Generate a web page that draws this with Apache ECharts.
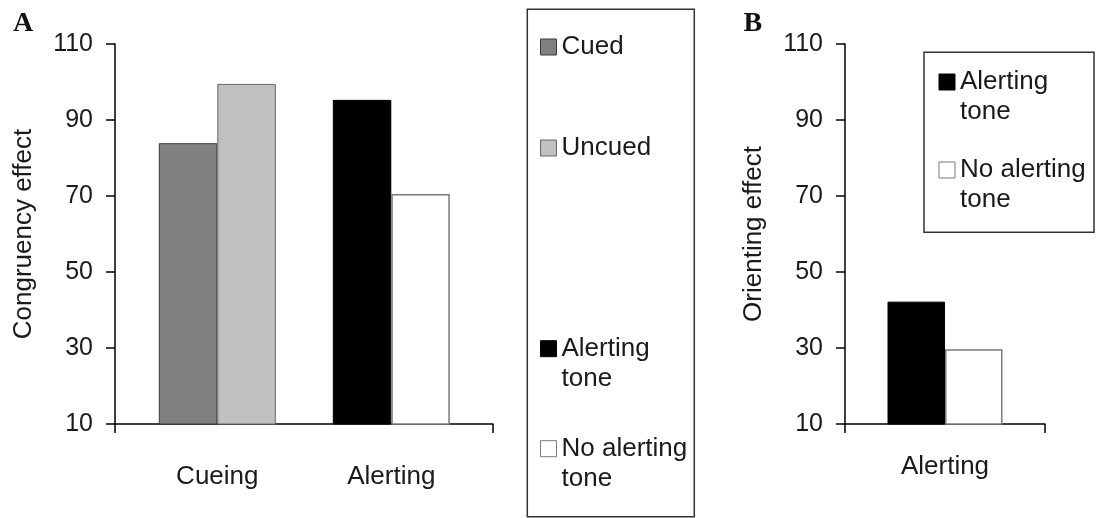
<!DOCTYPE html>
<html>
<head>
<meta charset="utf-8">
<script src="https://cdn.jsdelivr.net/npm/echarts@6/dist/echarts.min.js"></script>
<style>html,body{margin:0;padding:0;background:#fff}#c{width:1099px;height:518px}</style>
</head>
<body>
<div id="c"></div>
<script>
// ---- data ----
const panelACategories = ['Cueing', 'Alerting'];
const cued = [83.9, null];
const uncued = [99.5, null];
const alertingToneA = [null, 95.3];
const noAlertingToneA = [null, 70.5];
const panelBCategories = ['Alerting'];
const alertingToneB = [42.2];
const noAlertingToneB = [29.7];
const yTicks = [10, 30, 50, 70, 90, 110];
const legendLabels = { 'Cued': 'Cued', 'Uncued': 'Uncued', 'Alerting tone': 'Alerting\ntone', 'No alerting tone': 'No alerting\ntone' };

const FONT = 'Liberation Sans, Arial, Helvetica, sans-serif';
const TXT = '#1a1a1a';
const yMin = yTicks[0], yMax = yTicks[yTicks.length - 1], yStep = yTicks[1] - yTicks[0];

const styles = {
  'Cued': { color: '#808080', borderColor: '#3a3a3a', borderWidth: 1 },
  'Uncued': { color: '#c0c0c0', borderColor: '#666666', borderWidth: 1 },
  'Alerting tone': { color: '#000000', borderColor: '#000000', borderWidth: 1 },
  'No alerting tone': { color: '#ffffff', borderColor: '#7a7a7a', borderWidth: 1.5 }
};

function visibleY(name) {
  return {
    type: 'value', min: yMin, max: yMax, interval: yStep,
    name: name, nameLocation: 'middle', nameGap: 78,
    nameTextStyle: { fontSize: 26, color: TXT, fontFamily: FONT },
    axisLine: { show: true, lineStyle: { color: '#000', width: 1.5 } },
    axisTick: { show: true, length: 9, lineStyle: { color: '#000', width: 1.5 } },
    axisLabel: { fontSize: 25, color: TXT, fontFamily: FONT, margin: 22 },
    splitLine: { show: false }
  };
}

const chart = echarts.init(document.getElementById('c'), null, { renderer: 'canvas' });
const twoLineIcon = 'path://M0,0H16V16H0Z M16,46';

chart.setOption({
  animation: false,
  backgroundColor: '#fff',
  title: [
    { text: 'A', left: 13, top: 10, padding: 0, textStyle: { fontFamily: 'Liberation Serif, Times New Roman, serif', fontWeight: 'bold', fontSize: 28, color: '#111' } },
    { text: 'B', left: 743.5, top: 10, padding: 0, textStyle: { fontFamily: 'Liberation Serif, Times New Roman, serif', fontWeight: 'bold', fontSize: 28, color: '#111' } }
  ],
  grid: [
    { left: 115, top: 44, width: 378, height: 380 },       // panel A frame
    { left: 130.3, top: 44, width: 348, height: 380 },     // panel A bars
    { left: 845, top: 44, width: 200, height: 380 }        // panel B
  ],
  xAxis: [
    { gridIndex: 0, type: 'category', data: panelACategories,
      axisLine: { lineStyle: { color: '#000', width: 1.5 } },
      axisTick: { show: true, interval: 1, length: 9, lineStyle: { color: '#000', width: 1.5 } },
      axisLabel: { show: false } },
    { gridIndex: 1, type: 'category', data: panelACategories,
      axisLine: { show: false }, axisTick: { show: false },
      axisLabel: { fontSize: 26, color: TXT, fontFamily: FONT, margin: 40 } },
    { gridIndex: 2, type: 'category', data: panelBCategories,
      axisLine: { lineStyle: { color: '#000', width: 1.5 } },
      axisTick: { show: true, length: 9, lineStyle: { color: '#000', width: 1.5 } },
      axisLabel: { fontSize: 26, color: TXT, fontFamily: FONT, margin: 30 } }
  ],
  yAxis: [
    Object.assign(visibleY('Congruency effect'), { gridIndex: 0 }),
    { gridIndex: 1, type: 'value', min: yMin, max: yMax, interval: yStep, show: false },
    Object.assign(visibleY('Orienting effect'), { gridIndex: 2 })
  ],
  legend: [
    { data: [{ name: 'Cued', icon: 'rect' }, { name: 'Uncued', icon: 'rect' }],
      orient: 'vertical', left: 540, top: 32, padding: 0, itemGap: 71,
      itemWidth: 16, itemHeight: 16, itemStyle: { borderWidth: 1 },
      formatter: n => legendLabels[n],
      textStyle: { fontSize: 26, lineHeight: 30, color: TXT, fontFamily: FONT } },
    { data: [{ name: 'Alerting tone', icon: twoLineIcon }, { name: 'No alerting tone', icon: twoLineIcon }],
      orient: 'vertical', left: 540, top: 333.7, padding: 0, itemGap: 40,
      itemWidth: 16, itemHeight: 46, itemStyle: { borderWidth: 1 },
      formatter: n => legendLabels[n],
      textStyle: { fontSize: 26, lineHeight: 30, color: TXT, fontFamily: FONT } },
    { data: [{ name: 'Alerting tone', icon: twoLineIcon }, { name: 'No alerting tone', icon: twoLineIcon }],
      orient: 'vertical', left: 938.5, top: 67, padding: 0, itemGap: 28,
      itemWidth: 16, itemHeight: 46, itemStyle: { borderWidth: 1 },
      formatter: n => legendLabels[n],
      textStyle: { fontSize: 26, lineHeight: 30, color: TXT, fontFamily: FONT } }
  ],
  graphic: [
    { type: 'rect', silent: true, shape: { x: 527.3, y: 9.3, width: 167, height: 507.4 }, style: { fill: 'none', stroke: '#333', lineWidth: 1.5 } },
    { type: 'rect', silent: true, shape: { x: 924, y: 52.3, width: 170, height: 180 }, style: { fill: 'none', stroke: '#333', lineWidth: 1.5 } }
  ],
  series: [
    { name: 'Cued', type: 'bar', xAxisIndex: 1, yAxisIndex: 1, stack: 'L', barWidth: 58.5, barGap: '0%', data: cued, itemStyle: styles['Cued'] },
    { name: 'Alerting tone', type: 'bar', xAxisIndex: 1, yAxisIndex: 1, stack: 'L', barWidth: 58.5, barGap: '0%', data: alertingToneA, itemStyle: styles['Alerting tone'] },
    { name: 'Uncued', type: 'bar', xAxisIndex: 1, yAxisIndex: 1, stack: 'R', barWidth: 58.5, barGap: '0%', data: uncued, itemStyle: styles['Uncued'] },
    { name: 'No alerting tone', type: 'bar', xAxisIndex: 1, yAxisIndex: 1, stack: 'R', barWidth: 58.5, barGap: '0%', data: noAlertingToneA, itemStyle: styles['No alerting tone'] },
    { name: 'Alerting tone', type: 'bar', xAxisIndex: 2, yAxisIndex: 2, barWidth: 57.5, barGap: '0%', data: alertingToneB, itemStyle: styles['Alerting tone'] },
    { name: 'No alerting tone', type: 'bar', xAxisIndex: 2, yAxisIndex: 2, barWidth: 57.5, barGap: '0%', data: noAlertingToneB, itemStyle: styles['No alerting tone'] }
  ]
});
</script>
</body>
</html>
